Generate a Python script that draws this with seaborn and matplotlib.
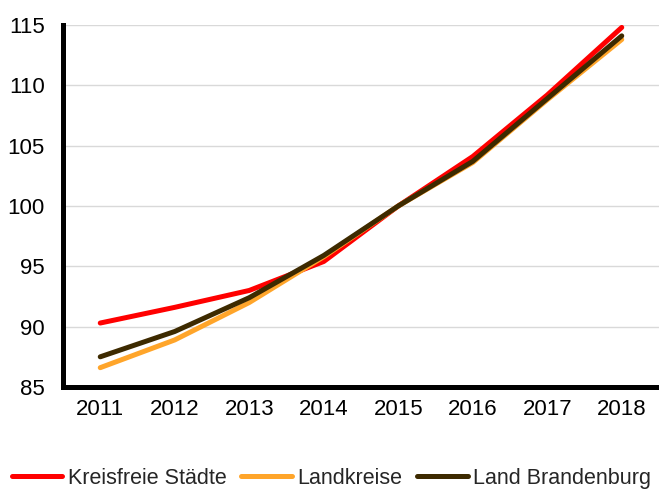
import matplotlib
matplotlib.use("Agg")
import matplotlib.pyplot as plt
import seaborn as sns
import pandas as pd

years = [2011, 2012, 2013, 2014, 2015, 2016, 2017, 2018]
kreisfreie = [90.3, 91.6, 93.0, 95.4, 100.0, 104.1, 109.2, 114.8]
landkreise = [86.6, 88.9, 92.0, 95.8, 100.0, 103.6, 108.8, 113.8]
brandenburg = [87.5, 89.6, 92.4, 95.9, 100.0, 103.7, 108.9, 114.1]
series_names = ["Kreisfreie Städte", "Landkreise", "Land Brandenburg"]
colors = ["#FF0000", "#FFA52A", "#3D2A00"]
yticks = [85, 90, 95, 100, 105, 110, 115]

df = pd.DataFrame({
    "Jahr": years * 3,
    "Wert": kreisfreie + landkreise + brandenburg,
    "Serie": [series_names[0]] * 8 + [series_names[1]] * 8 + [series_names[2]] * 8,
})

sns.set_theme(style="white")
plt.rcParams['font.family'] = ['Liberation Sans', 'DejaVu Sans']

fig = plt.figure(figsize=(6.59, 4.96), dpi=100)
ax = fig.add_axes([0.0956, 0.2198, 0.9044, 0.7298])

sns.lineplot(data=df, x="Jahr", y="Wert", hue="Serie", hue_order=series_names,
             palette=colors, linewidth=3.6, ax=ax, legend=True,
             solid_capstyle="round")

ax.set_xlim(2010.5, 2018.5)
ax.set_ylim(85, 115)
ax.set_xticks(years)
ax.set_xticklabels([str(y) for y in years])
ax.set_yticks(yticks)
ax.set_yticklabels([str(y) for y in yticks])
ax.set_xlabel("")
ax.set_ylabel("")

ax.yaxis.grid(True, color="#d9d9d9", linewidth=1.0)
ax.xaxis.grid(False)
ax.set_axisbelow(True)

for s in ["top", "right"]:
    ax.spines[s].set_visible(False)
for s in ["left", "bottom"]:
    ax.spines[s].set_visible(True)
    ax.spines[s].set_color("black")
    ax.spines[s].set_linewidth(3.6)

ax.tick_params(axis="both", length=0, labelsize=16, colors="black")
ax.tick_params(axis="y", pad=13)
ax.tick_params(axis="x", pad=9)

handles, labels = ax.get_legend_handles_labels()
ax.legend_.remove()
leg = fig.legend(handles, labels, loc="center", bbox_to_anchor=(0.503, 0.036),
                 ncol=3, frameon=False, fontsize=15.5, handlelength=2.35,
                 handletextpad=0.25, columnspacing=0.7, borderaxespad=0)
for h in leg.legend_handles:
    h.set_linewidth(3.6)

fig.savefig("out.png", dpi=100)
